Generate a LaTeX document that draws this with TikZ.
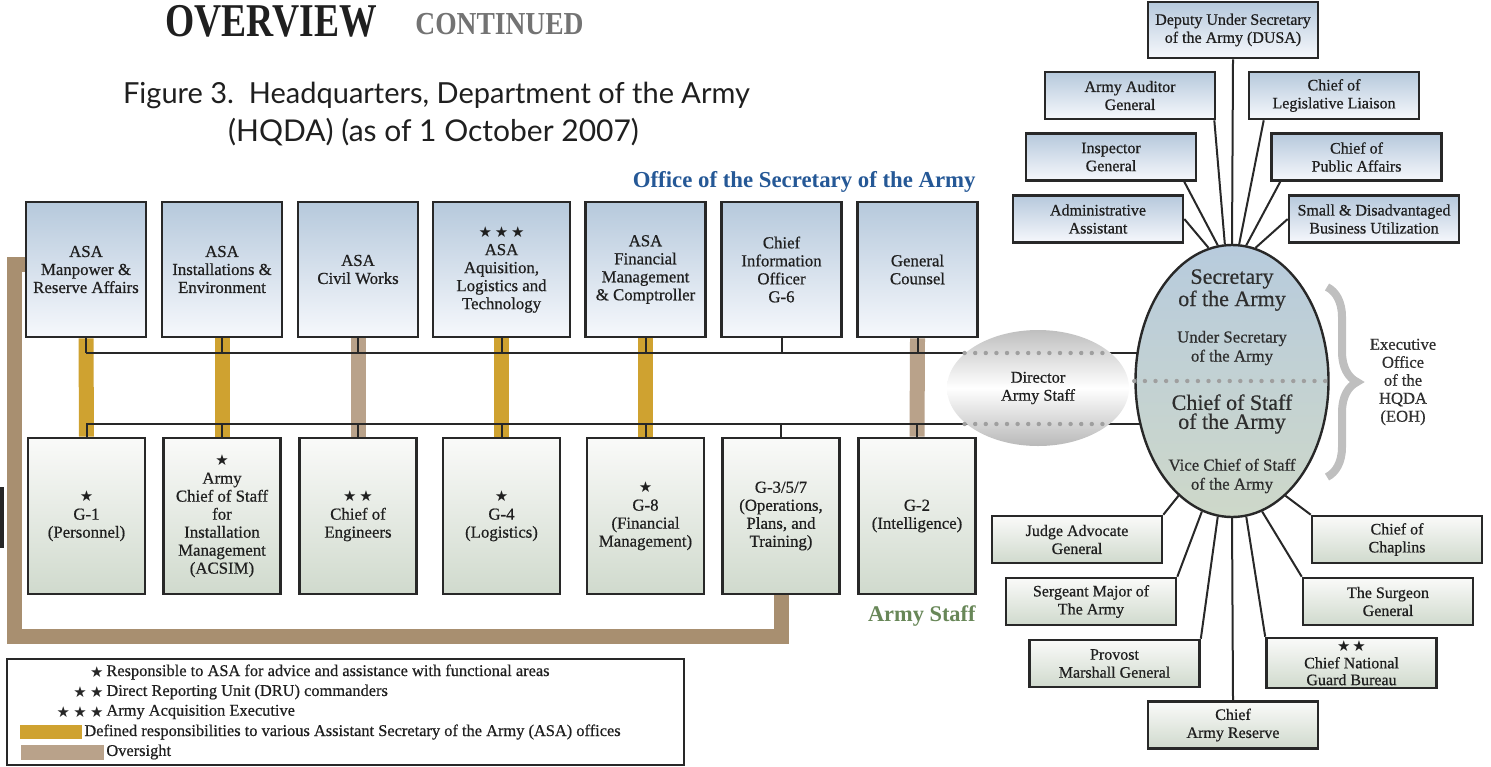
\documentclass[tikz,border=0pt]{standalone}
\usepackage{fontspec}
\usepackage{graphicx}
\setmainfont{Liberation Serif}
\newfontfamily\boxfont{Liberation Serif}[FakeBold=0.6]
\newfontfamily\titlefont{Lato}
\newfontfamily\symfont{DejaVu Sans}
\usetikzlibrary{shapes.geometric,decorations.pathreplacing}
\pgfdeclarelayer{bars}
\pgfdeclarelayer{lines}
\pgfsetlayers{bars,lines,main}
\definecolor{gold}{RGB}{207,162,48}
\definecolor{oversight}{RGB}{185,162,138}
\definecolor{bracket}{RGB}{168,143,112}
\definecolor{boxline}{RGB}{40,40,40}
\definecolor{osablue}{RGB}{37,88,150}
\definecolor{staffgreen}{RGB}{104,135,88}
\definecolor{blutop}{RGB}{182,201,220}
\definecolor{blubot}{RGB}{246,248,252}
\definecolor{grntop}{RGB}{250,250,249}
\definecolor{grnbot}{RGB}{208,218,205}
\definecolor{elltop}{RGB}{183,203,221}
\definecolor{ellbot}{RGB}{206,216,201}
\newcommand\boxstar{{\symfont\fontsize{7.5}{7.5}\selectfont ★}}
\tikzset{
    every node/.style={text=black!88},
    secbox/.style={draw=boxline, line width=1.3pt, top color=blutop, bottom color=blubot,
        align=center, font=\boxfont\fontsize{8.4}{9}\selectfont, inner sep=1pt,
        minimum width=60pt, minimum height=67.5pt},
    staffbox/.style={secbox, top color=grntop, bottom color=grnbot,
        minimum width=58.5pt, minimum height=78pt},
    upbox/.style={secbox, font=\boxfont\fontsize{8}{9}\selectfont, minimum width=85pt, minimum height=23.5pt},
    downbox/.style={staffbox, font=\boxfont\fontsize{8}{9}\selectfont, minimum width=85pt, minimum height=23.5pt},
    bus/.style={draw=boxline, line width=1pt},
    spoke/.style={draw=boxline, line width=1pt},
    respbar/.style={draw=#1, line width=7.5pt},
    dots/.style={draw=gray!75, line width=2.2pt, line cap=round, dash pattern=on 0pt off 5.3pt},
    bigtext/.style={align=center, inner sep=0pt, font=\boxfont\fontsize{11}{9.5}\selectfont, text=black!82},
    smalltext/.style={align=center, inner sep=0pt, font=\boxfont\fontsize{8.4}{9.5}\selectfont, text=black!82},
    legtext/.style={anchor=west, inner sep=0pt, font=\boxfont\fontsize{8.2}{9}\selectfont},
    legstar/.style={inner sep=1pt, text=black!85}
}
\begin{document}
\begin{tikzpicture}[x=0.5pt, y=-0.5pt]
        \useasboundingbox (0,0) rectangle (1491,766);
        % titles
        \node[anchor=base west, inner sep=0pt, text=black!88] (ovw) at (165,36) {\scalebox{0.8}[1]{\fontsize{23.5}{23.5}\selectfont\bfseries OVERVIEW}};
        \node[anchor=base west, inner sep=0pt, text=black!55] (cont) at (415,34) {\scalebox{0.86}[1]{\fontsize{16}{16}\selectfont\bfseries CONTINUED}};
        \node[anchor=base, inner sep=0pt, font=\titlefont\fontsize{14.5}{14.5}\selectfont] (fig1) at (436.5,103) {Figure 3.\ \ Headquarters, Department of the Army};
        \node[anchor=base, inner sep=0pt, font=\titlefont\fontsize{15}{15}\selectfont] (fig2) at (433.5,141) {(HQDA) (as of 1 October 2007)};
        \node[anchor=base east, inner sep=0pt, text=osablue, font=\fontsize{11.4}{12}\selectfont\bfseries] (osa) at (976,187) {Office of the Secretary of the Army};
        \node[anchor=base east, inner sep=0pt, text=staffgreen, font=\fontsize{11.2}{12}\selectfont\bfseries] (staff) at (976,621) {Army Staff};

        % secretariat
        \node[secbox] (asa1) at (86,269.5) {ASA\\Manpower \&\\Reserve Affairs};
        \node[secbox] (asa2) at (222,269.5) {ASA\\Installations \&\\Environment};
        \node[secbox] (asa3) at (358,269.5) {ASA\\Civil Works};
        \node[secbox, minimum width=68.5pt] (asa4) at (501.5,269.5) {\boxstar\,\boxstar\,\boxstar\\ASA\\Aquisition,\\Logistics and\\Technology};
        \node[secbox] (asa5) at (645.5,269.5) {ASA\\Financial\\Management\\\& Comptroller};
        \node[secbox] (cio) at (781.5,269.5) {Chief\\Information\\Officer\\G-6};
        \node[secbox] (gc) at (917.5,269.5) {General\\Counsel};

        % army staff
        \node[staffbox] (g1) at (86.5,516) {\boxstar\\G-1\\(Personnel)};
        \node[staffbox] (acsim) at (222,516) {\boxstar\\Army\\Chief of Staff\\for\\Installation\\Management\\(ACSIM)};
        \node[staffbox] (coe) at (358,516) {\boxstar\,\boxstar\\Chief of\\Engineers};
        \node[staffbox] (g4) at (501.5,516) {\boxstar\\G-4\\(Logistics)};
        \node[staffbox] (g8) at (645.5,516) {\boxstar\\G-8\\(Financial\\Management)};
        \node[staffbox] (g357) at (781,516) {G-3/5/7\\(Operations,\\Plans, and\\Training)};
        \node[staffbox] (g2) at (917,516) {G-2\\(Intelligence)};

        % executive office
        \node[ellipse, draw=boxline, line width=1.2pt, top color=elltop, bottom color=ellbot,
              minimum width=96.5pt, minimum height=136pt, inner sep=0pt] (sec) at (1232,381) {};
        \node[bigtext] (sectxt) at (1232,290) {Secretary\\of the Army};
        \node[smalltext] (usatxt) at (1232,348) {Under Secretary\\of the Army};
        \node[bigtext] (csatxt) at (1232,414) {Chief of Staff\\of the Army};
        \node[smalltext] (vcsatxt) at (1232,476) {Vice Chief of Staff\\of the Army};
        \draw[dots] (sec.west) -- (sec.east);
        \node[ellipse, top color=gray!50, bottom color=gray!55, middle color=white,
              minimum width=91pt, minimum height=58pt, inner sep=0pt, align=center,
              font=\boxfont\fontsize{8.2}{9}\selectfont] (dir) at (1038,388) {Director\\Army Staff};
        \coordinate (bustop) at (86,353);
        \coordinate (busbot) at (86,424);
        \draw[dots] ([xshift=9pt]dir.west |- bustop) -- ([xshift=-9pt]dir.east |- bustop);
        \draw[dots] ([xshift=9pt]dir.west |- busbot) -- ([xshift=-9pt]dir.east |- busbot);
        \draw[decorate, decoration={brace, amplitude=15pt}, draw=gray!50, line width=4pt] (1327,287) -- (1327,477);
        \node[smalltext, font=\boxfont\fontsize{8.3}{9}\selectfont] (eoh) at (1403,382) {Executive\\Office\\of the\\HQDA\\(EOH)};

        \node[upbox, minimum height=28pt] (dusa) at (1233,30) {Deputy Under Secretary\\of the Army (DUSA)};
        \node[upbox] (aag) at (1130,95.5) {Army Auditor\\General};
        \node[upbox] (cll) at (1334,95.5) {Chief of\\Legislative Liaison};
        \node[upbox] (ig) at (1111,157) {Inspector\\General};
        \node[upbox] (cpa) at (1356.5,157) {Chief of\\Public Affairs};
        \node[upbox] (aa) at (1098,219) {Administrative\\Assistant};
        \node[upbox] (sadbu) at (1374,219) {Small \& Disadvantaged\\Business Utilization};
        \node[downbox] (jag) at (1077,539.5) {Judge Advocate\\General};
        \node[downbox] (cch) at (1397,539.5) {Chief of\\Chaplins};
        \node[downbox] (sma) at (1091,601.5) {Sergeant Major of\\The Army};
        \node[downbox] (tsg) at (1388,601.5) {The Surgeon\\General};
        \node[downbox] (pmg) at (1114.5,663.5) {Provost\\Marshall General};
        \node[downbox, minimum height=25pt, inner sep=0.5pt, font=\boxfont\fontsize{8}{8.4}\selectfont] (ngb) at (1351.5,663) {{\fontsize{5.5}{5.5}\selectfont\boxstar\,\boxstar}\\Chief National\\Guard Bureau};
        \node[downbox] (car) at (1233,725) {Chief\\Army Reserve};

        % legend
        \draw[draw=boxline, line width=1.2pt] (7,659) rectangle (684,765);
        \fill[gold] (20,725) rectangle (82,739);
        \fill[oversight] (21,745) rectangle (104,760);
        \node[legtext, label={[legstar]left:\boxstar}] (leg1) at (106,672) {Responsible to ASA for advice and assistance with functional areas};
        \node[legtext, label={[legstar]left:\boxstar\,\boxstar}] (leg2) at (106,692) {Direct Reporting Unit (DRU) commanders};
        \node[legtext, label={[legstar]left:\boxstar\,\boxstar\,\boxstar}] (leg3) at (106,712) {Army Acquisition Executive};
        \node[legtext] (leg4) at (84,732) {Defined responsibilities to various Assistant Secretary of the Army (ASA) offices};
        \node[legtext] (leg5) at (106,752) {Oversight};
        \fill[black!85] (0,487) rectangle (3.5,548);

        \begin{pgfonlayer}{bars}
                \foreach \t/\b/\c in {asa1/g1/gold, asa2/acsim/gold, asa3/coe/oversight,
                                      asa4/g4/gold, asa5/g8/gold, gc/g2/oversight}
                        \draw[respbar=\c] (\t.south) -- (\b.north);
                \draw[respbar=bracket, line join=miter] ([yshift=2.5pt]asa1.west) -- (14.5,264.5) -- (14.5,636) -- (g357.south |- 0,636) -- (g357.south);
        \end{pgfonlayer}
        \begin{pgfonlayer}{lines}
                \draw[bus] (bustop) -- (bustop -| sec.center);
                \draw[bus] (busbot) -- (busbot -| sec.center);
                \foreach \n in {asa1,asa2,asa3,asa4,asa5,cio,gc}
                        \draw[bus] (\n.south) -- (\n.south |- bustop);
                \foreach \n in {g1,acsim,coe,g4,g8,g357,g2}
                        \draw[bus] (\n.north) -- (\n.north |- busbot);
                \draw[spoke] (aa.east) -- (sec.100);
                \draw[spoke] ([xshift=-6.5pt]ig.south east) -- (sec.96);
                \draw[spoke] ([xshift=-1pt]aag.south east) -- (sec.93);
                \draw[spoke] (dusa.south) -- (sec.north);
                \draw[spoke] ([xshift=8pt]cll.south west) -- (sec.87);
                \draw[spoke] ([xshift=5pt]cpa.south west) -- (sec.84);
                \draw[spoke] (sadbu.west) -- (sec.80);
                \draw[spoke] (jag.north east) -- (sec.245);
                \draw[spoke] (cch.north west) -- (sec.295);
                \draw[spoke] (sma.north east) -- (sec.257);
                \draw[spoke] (tsg.north west) -- (sec.283);
                \draw[spoke] (pmg.north east) -- (sec.264);
                \draw[spoke] (ngb.north west) -- (sec.276);
                \draw[spoke] (car.north) -- (sec.south);
        \end{pgfonlayer}
\end{tikzpicture}
\end{document}
